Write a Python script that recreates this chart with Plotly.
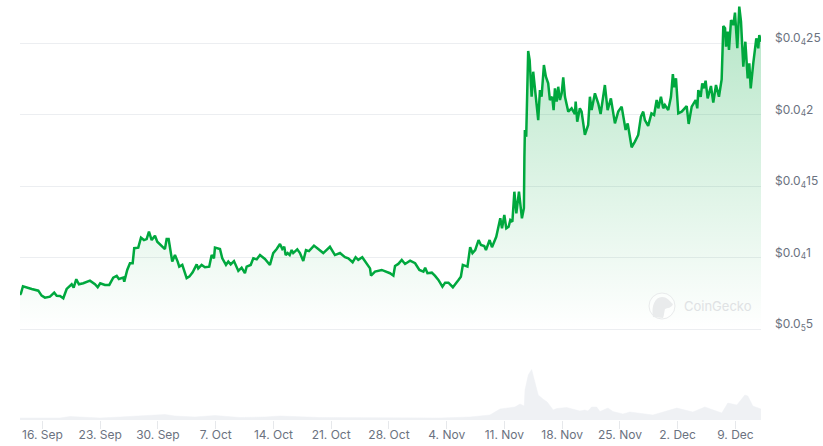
import plotly.graph_objects as go

WIDTH, HEIGHT = 823, 446
LEFT, RIGHT = 20, 761
PRICE_BOTTOM, VOLUME_BASE = 329, 420

# Days counted from 16 Sep, with the price in millionths of a dollar
price_days = [
    -2.73, -2.61, -2.37, -1.92, -1.31, -0.51, -0.10, 0.30, 0.91, 1.43, 1.73, 2.13, 2.53, 2.94, 3.55, 3.79,
    4.11, 4.43, 4.96, 5.77, 6.38, 6.71, 7.02, 7.59, 8.12, 8.60, 9.02, 9.29, 9.82, 9.94, 10.30, 10.63,
    10.96, 11.15, 11.64, 11.97, 12.33, 12.66, 12.94, 13.27, 13.67, 13.95, 14.36, 14.88, 15.09, 15.33, 15.77, 16.10,
    16.43, 16.62, 16.99, 17.52, 17.84, 18.25, 18.74, 18.93, 19.34, 19.74, 20.26, 20.56, 20.84, 20.96, 21.57, 21.85,
    22.30, 22.58, 22.87, 23.27, 23.80, 24.20, 24.60, 24.81, 25.30, 25.62, 26.03, 26.43, 27.03, 27.64, 28.04, 28.46,
    28.86, 29.14, 29.38, 29.55, 29.79, 30.04, 30.28, 30.47, 30.96, 31.29, 31.69, 32.02, 32.38, 32.99, 33.51, 34.12,
    34.93, 35.54, 36.15, 36.76, 37.16, 37.69, 38.05, 38.37, 38.86, 39.40, 39.80, 39.92, 40.41, 41.22, 41.83, 42.23,
    42.64, 42.84, 43.24, 43.66, 44.06, 44.67, 45.28, 45.80, 46.29, 46.50, 46.78, 47.31, 47.71, 48.11, 48.60, 48.93,
    49.33, 49.87, 50.55, 50.84, 51.08, 51.64, 51.97, 52.25, 52.58, 52.99, 53.28, 53.68, 53.89, 54.33, 54.62, 55.14,
    55.63, 55.84, 56.12, 56.36, 56.64, 56.85, 57.10, 57.34, 57.58, 57.90, 58.26, 58.50, 58.56, 58.62, 58.78, 58.87,
    59.02, 59.20, 59.44, 59.63, 59.92, 60.24, 60.45, 60.65, 60.93, 61.17, 61.45, 61.66, 61.94, 62.11, 62.27, 62.48,
    62.67, 62.88, 63.09, 63.28, 63.49, 63.89, 64.30, 64.70, 64.79, 64.98, 65.30, 65.51, 65.91, 66.31, 66.52, 66.73,
    67.13, 67.53, 67.82, 68.34, 68.67, 69.07, 69.56, 69.96, 70.38, 70.86, 71.11, 71.59, 71.99, 72.39, 72.72, 73.00,
    73.20, 73.60, 74.00, 74.32, 74.63, 74.83, 75.15, 75.43, 75.63, 76.04, 76.37, 76.60, 76.76, 76.98, 77.26, 77.67,
    78.28, 78.52, 78.89, 79.37, 79.57, 79.69, 79.98, 80.17, 80.38, 80.58, 80.83, 81.23, 81.51, 81.84, 82.20, 82.53,
    82.73, 82.94, 83.06, 83.26, 83.42, 83.67, 83.95, 84.15, 84.43, 84.67, 84.88, 85.16, 85.41, 85.69, 85.89, 86.06,
    86.37, 86.74, 86.98, 87.10, 87.31,
]
price_values = [
    7.38, 7.50, 7.99, 7.89, 7.80, 7.68, 7.33, 7.19, 7.26, 7.54, 7.33, 7.31, 7.15, 7.80, 8.13, 7.89,
    8.48, 8.13, 8.20, 8.38, 8.13, 7.92, 8.20, 8.08, 8.08, 8.59, 8.71, 8.50, 8.59, 8.31, 9.13, 9.60,
    9.60, 10.65, 10.69, 11.39, 11.22, 11.29, 11.81, 11.22, 11.52, 11.10, 10.87, 10.59, 11.29, 11.29, 9.71, 10.17,
    9.71, 9.36, 9.48, 8.55, 8.66, 8.97, 9.52, 9.24, 9.48, 9.32, 9.36, 10.17, 9.94, 10.69, 10.59, 9.94,
    9.48, 9.71, 9.52, 9.75, 9.06, 9.29, 8.90, 9.36, 9.48, 9.94, 9.87, 10.17, 9.90, 9.48, 10.31, 10.59,
    10.94, 10.59, 10.75, 10.17, 10.31, 10.17, 10.52, 10.31, 10.57, 10.31, 9.75, 10.52, 10.45, 10.83, 10.59, 10.31,
    10.75, 10.17, 10.31, 10.02, 9.94, 9.67, 10.02, 9.84, 10.02, 9.60, 9.24, 8.73, 9.01, 9.13, 9.01, 8.90,
    8.73, 9.41, 9.55, 9.83, 9.55, 9.78, 9.60, 9.13, 9.01, 9.29, 8.90, 8.94, 8.71, 8.43, 7.96, 8.24,
    8.24, 7.92, 8.43, 8.66, 9.48, 9.36, 10.72, 10.31, 10.52, 11.22, 10.87, 10.80, 10.52, 11.22, 10.72, 11.45,
    12.74, 12.04, 12.97, 12.04, 12.15, 12.62, 12.50, 14.60, 13.08, 14.60, 12.74, 13.45, 16.96, 18.92, 18.45, 20.52,
    24.44, 23.81, 21.24, 22.99, 21.24, 19.61, 21.71, 21.24, 23.46, 22.64, 22.18, 21.01, 21.24, 20.31, 21.83, 20.90,
    21.94, 21.01, 21.48, 22.60, 21.24, 20.20, 20.43, 20.03, 20.90, 19.50, 20.43, 20.20, 18.57, 19.27, 21.24, 20.31,
    21.48, 20.78, 20.03, 22.06, 20.31, 21.13, 19.38, 20.20, 20.55, 18.92, 19.38, 17.71, 18.10, 18.57, 19.85, 20.20,
    19.61, 19.20, 20.08, 19.97, 21.01, 20.43, 21.24, 20.43, 20.66, 20.31, 21.24, 22.83, 21.90, 22.53, 20.08, 20.20,
    20.59, 19.34, 20.55, 21.01, 20.43, 21.71, 21.24, 22.18, 21.83, 22.36, 21.13, 21.99, 20.83, 22.06, 21.24, 22.46,
    26.19, 26.03, 24.74, 25.79, 24.51, 26.61, 26.26, 27.12, 24.63, 27.54, 26.49, 23.34, 25.09, 22.53, 23.58, 21.83,
    23.58, 25.33, 24.63, 25.56, 25.09,
]

# Traded volume, in the lower panel's own units
volume_days = [
    -2.73, 2.13, 3.34, 6.99, 9.42, 11.85, 14.88, 16.10, 18.53, 20.96, 24.00, 27.03, 28.86, 33.72, 40.40, 48.30,
    51.94, 54.37, 55.59, 56.80, 57.41, 58.02, 58.54, 58.63, 59.03, 59.44, 59.84, 60.24, 60.85, 61.33, 62.06, 62.47,
    63.69, 65.30, 65.91, 66.28, 66.73, 67.34, 67.74, 68.71, 69.32, 70.53, 71.38, 74.17, 77.09, 79.03, 80.49, 82.55,
    83.28, 84.38, 85.35, 85.71, 86.32, 87.30,
]
volume_values = [
    2, 2, 3.5, 2, 3, 4, 5.5, 4, 3, 4.5, 2.5, 3, 4, 2.5, 2, 2,
    3, 5, 11, 12, 13, 16, 14, 30, 45, 50.5, 37, 25, 20.7, 18, 10, 11.5,
    12.5, 9, 10, 9, 13, 13, 8.5, 12, 8.5, 6, 8, 5, 12, 8, 13, 7,
    17, 15, 25, 24, 14, 11,
]

date_positions = [0, 7.02, 14.03, 21.05, 28.07, 35.08, 42.10, 49.12, 56.13, 63.15, 70.17, 77.18, 84.20]
date_labels = [
    "16. Sep", "23. Sep", "30. Sep", "7. Oct", "14. Oct", "21. Oct", "28. Oct",
    "4. Nov", "11. Nov", "18. Nov", "25. Nov", "2. Dec", "9. Dec",
]
price_ticks = [5, 10, 15, 20, 25]
price_labels = [
    "$0.0<sub>5</sub>5", "$0.0<sub>4</sub>1", "$0.0<sub>4</sub>15",
    "$0.0<sub>4</sub>2", "$0.0<sub>4</sub>25",
]

GREEN = "#00a83e"
TEXT_GREY = "#6b7280"
GRID = "#eceef1"
VOLUME_FILL = "#eff1f4"
MARK_GREY = "#dfe2e4"


def px_x(x):
    return x / WIDTH


def px_y(y):
    return 1 - y / HEIGHT


fig = go.Figure()
fig.add_trace(go.Scatter(
    x=price_days, y=price_values, mode="lines",
    line=dict(color=GREEN, width=2.5), fill="tozeroy",
    fillgradient=dict(
        type="vertical", start=28, stop=5,
        colorscale=[[0, "rgba(0,168,62,0.30)"], [1, "rgba(0,168,62,0)"]],
    ),
    hoverinfo="skip", showlegend=False,
))
fig.add_trace(go.Scatter(
    x=volume_days, y=volume_values, mode="lines", yaxis="y2",
    line=dict(color=VOLUME_FILL, width=0.5), fill="tozeroy", fillcolor=VOLUME_FILL,
    hoverinfo="skip", showlegend=False,
))

# CoinGecko watermark: a round badge with a gecko head beside the wordmark
watermark = [
    dict(type="circle", xref="paper", yref="paper",
         x0=px_x(649), x1=px_x(675), y0=px_y(319), y1=px_y(293),
         line=dict(color="#e9ebec", width=1), fillcolor="rgba(255,255,255,0.5)"),
    dict(type="path", xref="paper", yref="paper",
         path=(f"M {px_x(653)} {px_y(317)} C {px_x(651)} {px_y(306)} {px_x(655)} {px_y(297)} {px_x(662)} {px_y(297)} "
               f"C {px_x(668)} {px_y(297)} {px_x(670)} {px_y(302)} {px_x(673)} {px_y(304)} "
               f"C {px_x(672)} {px_y(308)} {px_x(667)} {px_y(308)} {px_x(665)} {px_y(309)} "
               f"C {px_x(664)} {px_y(313)} {px_x(664)} {px_y(316)} {px_x(663)} {px_y(318)} Z"),
         line=dict(width=0), fillcolor="#e9ebec"),
]

fig.update_layout(
    width=WIDTH, height=HEIGHT,
    margin=dict(l=0, r=0, t=0, b=0),
    paper_bgcolor="white", plot_bgcolor="white",
    font=dict(family="Inter", size=12, color=TEXT_GREY),
    xaxis=dict(
        domain=[px_x(LEFT), px_x(RIGHT)], range=[-2.73, 87.31], anchor="y2", automargin=False,
        tickmode="array", tickvals=date_positions, ticktext=date_labels,
        ticks="outside", ticklen=8, tickcolor="#e6e8eb", tickwidth=1, ticklabelstandoff=-4,
        showgrid=False, zeroline=False, showline=False,
    ),
    yaxis=dict(
        # Lower bound sits 3px under the 5 tick; plotly drops gridlines closer to the edge
        domain=[px_y(PRICE_BOTTOM + 3), 1], range=[4.79, 28.007], side="right", anchor="x", automargin=False,
        tickmode="array", tickvals=price_ticks, ticktext=price_labels,
        ticks="", ticklabelstandoff=13, ticklabelshift=-5,
        gridcolor=GRID, gridwidth=1, zeroline=False, showline=False,
    ),
    yaxis2=dict(
        domain=[px_y(VOLUME_BASE), px_y(PRICE_BOTTOM + 4)], range=[0, 87], anchor="x", automargin=False,
        showticklabels=False, ticks="", showgrid=False, zeroline=False, showline=False,
    ),
    shapes=watermark,
    annotations=[dict(
        text="CoinGecko", xref="paper", yref="paper", x=px_x(682), y=px_y(306),
        xanchor="left", yanchor="middle", showarrow=False,
        font=dict(family="Inter", size=13, color=MARK_GREY),
    )],
)

fig.write_html("out.html", config=dict(displayModeBar=False))
